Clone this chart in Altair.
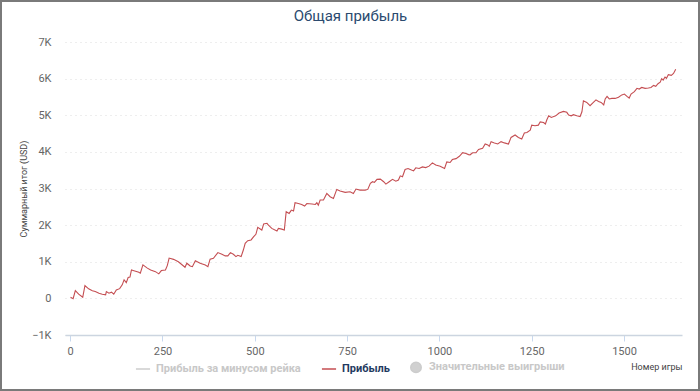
import altair as alt
import pandas as pd

games = [1, 8, 14, 23, 34, 40, 50, 60, 68, 78, 87, 96, 98, 105, 112, 118, 125, 134, 141, 146,
         152, 157, 162, 166, 175, 186, 190, 197, 209, 218, 231, 240, 247, 258, 263, 268, 280, 293,
         307, 311, 316, 325, 331, 339, 352, 366, 373, 379, 388, 400, 411, 420, 427, 434, 442, 449,
         454, 463, 469, 474, 481, 490, 497, 503, 508, 519, 524, 533, 537, 546, 560, 564, 573, 580,
         585, 593, 599, 605, 609, 618, 627, 635, 641, 655, 664, 668, 672, 677, 686, 695, 704, 713,
         722, 731, 745, 758, 767, 774, 785, 799, 806, 813, 819, 824, 831, 840, 849, 855, 864, 873,
         882, 889, 894, 900, 907, 915, 921, 930, 936, 945, 954, 963, 972, 981, 990, 1002, 1014,
         1020, 1029, 1035, 1045, 1054, 1063, 1072, 1079, 1083, 1090, 1099, 1106, 1117, 1124, 1131,
         1135, 1140, 1149, 1158, 1167, 1176, 1187, 1194, 1205, 1214, 1223, 1230, 1237, 1246, 1250,
         1259, 1268, 1273, 1282, 1287, 1291, 1296, 1303, 1315, 1324, 1336, 1345, 1350, 1357, 1363,
         1372, 1381, 1386, 1390, 1399, 1408, 1417, 1424, 1431, 1438, 1445, 1449, 1454, 1460, 1467,
         1476, 1485, 1494, 1501, 1508, 1514, 1519, 1528, 1535, 1541, 1548, 1557, 1566, 1573, 1580,
         1586, 1592, 1598, 1602, 1606, 1611, 1615, 1620, 1628, 1634, 1640]

profit = [30, -10, 210, 115, 30, 350, 260, 210, 185, 140, 115, 95, 185, 140, 170, 115, 230, 265,
          370, 505, 430, 570, 580, 775, 750, 715, 690, 915, 825, 775, 730, 670, 760, 775, 895, 1100,
          1065, 1000, 885, 850, 960, 885, 865, 1030, 960, 910, 865, 1070, 1095, 1250, 1205, 1160,
          1160, 1250, 1205, 1140, 1175, 1140, 1320, 1505, 1575, 1595, 1685, 1750, 1940, 1865, 2030,
          2050, 2000, 1910, 1840, 1910, 1890, 1865, 2365, 2320, 2410, 2385, 2610, 2590, 2565, 2520,
          2590, 2575, 2565, 2610, 2545, 2685, 2685, 2865, 2775, 2730, 2975, 2930, 2895, 2910, 2865,
          2985, 2955, 2955, 2975, 3140, 3185, 3165, 3250, 3255, 3185, 3120, 3185, 3250, 3200, 3230,
          3345, 3320, 3520, 3545, 3520, 3480, 3565, 3545, 3590, 3570, 3610, 3700, 3640, 3610, 3545,
          3725, 3710, 3790, 3815, 3880, 3980, 3955, 3925, 3920, 3975, 3975, 4065, 4100, 4215, 4190,
          4150, 4280, 4245, 4215, 4280, 4245, 4215, 4395, 4460, 4395, 4350, 4515, 4530, 4595, 4730,
          4715, 4730, 4820, 4800, 4760, 4875, 4985, 4940, 4985, 5060, 5105, 5080, 5005, 4985, 5015,
          4985, 4965, 5095, 5395, 5350, 5260, 5350, 5420, 5375, 5350, 5280, 5445, 5515, 5445, 5460,
          5460, 5490, 5555, 5580, 5515, 5470, 5580, 5645, 5735, 5715, 5760, 5735, 5745, 5760, 5815,
          5790, 5860, 5905, 6000, 5960, 6045, 6010, 6110, 6090, 6140, 6255]

chart_title = "Общая прибыль"
series_names = ["Прибыль за минусом рейка", "Прибыль", "Значительные выигрыши"]
series_colors = ["#cccccc", "#c44e52", "#cccccc"]
x_ticks = [0, 250, 500, 750, 1000, 1250, 1500]
y_ticks = [-1000, 0, 1000, 2000, 3000, 4000, 5000, 6000, 7000]

df = pd.DataFrame({"game": games, "profit": profit, "series": "Прибыль"})

W, H = 617, 293
PL, PT, PR, PB = 65, 42, 18, 56

line = alt.Chart(df).mark_line(strokeWidth=1.1, interpolate="linear").encode(
    x=alt.X("game:Q",
            scale=alt.Scale(domain=[-14, 1657], nice=False, zero=False),
            axis=alt.Axis(values=x_ticks, format="d", title="Номер игры", grid=False,
                          domainColor="#ccd5e0", domainWidth=1.5,
                          tickColor="#c8d8ee", tickSize=6, tickWidth=1,
                          labelColor="#666666", labelFontSize=11, labelPadding=4,
                          titleFontSize=9, titleFontWeight="normal", titleColor="#444444",
                          titleAnchor="end", titleAlign="right", titlePadding=6)),
    y=alt.Y("profit:Q",
            scale=alt.Scale(domain=[-1000, 7000], nice=False),
            axis=alt.Axis(values=y_ticks, title="Суммарный итог (USD)",
                          labelExpr="datum.value == 0 ? '0' : format(datum.value / 1000, 'd') + 'K'",
                          domain=False, ticks=False, grid=True,
                          gridColor="#dddddd", gridDash=[1, 4], gridWidth=1,
                          labelColor="#666666", labelFontSize=11, labelPadding=14,
                          titleFontSize=9, titleFontWeight="normal", titleColor="#444444",
                          titlePadding=3)),
    color=alt.Color("series:N",
                    scale=alt.Scale(domain=series_names, range=series_colors),
                    legend=alt.Legend(
                        orient="none", legendX=70, legendY=317, direction="horizontal",
                        title=None, labelFontSize=11, labelFontWeight="bold",
                        labelColor={"expr": "datum.label == 'Прибыль' ? '#1f3a5f' : '#c8c8c8'"},
                        symbolType={"expr": "datum.value == 'Значительные выигрыши' ? 'circle' : 'stroke'"},
                        symbolSize={"expr": "datum.value == 'Значительные выигрыши' ? 110 : 200"},
                        symbolFillColor="#d0d0d0",
                        symbolStrokeWidth=1.5,
                        columnPadding=17, labelOffset=5)),
)

title = alt.Chart(alt.Data(values=[{"t": chart_title}])).mark_text(
    fontSize=15, color="#2b4a6f", font="Roboto", baseline="middle", align="center"
).encode(
    text="t:N", x=alt.value(W / 2 - 23), y=alt.value(-26),
)

border = alt.Chart(alt.Data(values=[{}])).mark_rect(
    filled=False, stroke="#7a7a7a", strokeWidth=2
).encode(
    x=alt.value(-(PL - 1)), x2=alt.value(W + PR - 1),
    y=alt.value(-(PT - 1)), y2=alt.value(H + PB - 1),
)

chart = alt.layer(line, title, border).properties(
    width=W, height=H,
    autosize=alt.AutoSizeParams(type="none"),
    padding={"left": PL, "top": PT, "right": PR, "bottom": PB},
).configure(font="Roboto").configure_view(strokeWidth=0)

chart.save("out.html", embed_options={"renderer": "svg", "actions": False})
